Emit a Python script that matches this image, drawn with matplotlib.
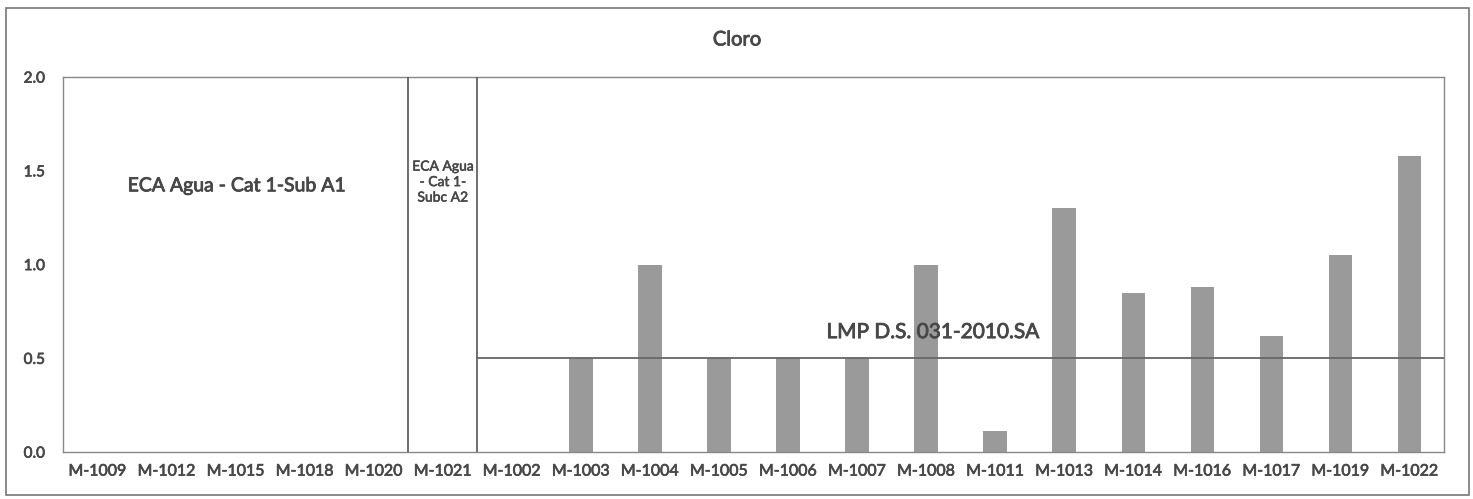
import numpy as np
import matplotlib.pyplot as plt
import matplotlib.patheffects as pe
from matplotlib.patches import Rectangle

plt.rcParams['font.family'] = ['Lato', 'DejaVu Sans']

# Cloro per muestra (mg/L)
samples = ['M-1009', 'M-1012', 'M-1015', 'M-1018', 'M-1020', 'M-1021', 'M-1002',
           'M-1003', 'M-1004', 'M-1005', 'M-1006', 'M-1007', 'M-1008', 'M-1011',
           'M-1013', 'M-1014', 'M-1016', 'M-1017', 'M-1019', 'M-1022']
cloro = [0, 0, 0, 0, 0, 0, 0,
         0.5, 1.0, 0.5, 0.5, 0.5, 1.0, 0.11,
         1.3, 0.85, 0.88, 0.62, 1.05, 1.58]

lmp = 0.5            # LMP D.S. 031-2010.SA
eca_a1_end = 4.5     # limite ECA A1 / A2
eca_a2_end = 5.5     # limite ECA A2 / LMP

txt_col = '#484848'
heavy = [pe.withStroke(linewidth=0.6, foreground=txt_col)]

fig = plt.figure(figsize=(14.73, 4.99), dpi=100)
ax = fig.add_axes([0.0428, 0.094, 0.9375, 0.7515])

x = np.arange(len(samples))
ax.bar(x, cloro, width=0.34, color='#9a9a9a', zorder=2)

ax.plot([eca_a1_end, eca_a1_end], [0, 2.0], color='#555555', lw=1.2, zorder=3)
ax.plot([eca_a2_end, eca_a2_end], [0, 2.0], color='#555555', lw=1.2, zorder=3)
ax.plot([eca_a2_end, len(samples) - 0.5], [lmp, lmp], color='#666666', lw=1.3, zorder=3)

ax.text(2.02, 1.42, 'ECA Agua - Cat 1-Sub A1', ha='center', va='center',
        fontsize=14, color=txt_col, path_effects=heavy)
ax.text(5.0, 1.44, 'ECA Agua\n- Cat 1-\nSubc A2', ha='center', va='center',
        fontsize=10, color=txt_col, linespacing=1.35,
        path_effects=[pe.withStroke(linewidth=0.4, foreground=txt_col)])
ax.text(12.1, 0.64, 'LMP D.S. 031-2010.SA', ha='center', va='center',
        fontsize=15, color=txt_col, path_effects=heavy)

ax.set_xlim(-0.5, len(samples) - 0.5)
ax.set_ylim(0, 2.0)
ax.set_yticks([0.0, 0.5, 1.0, 1.5, 2.0])
ax.set_yticklabels(['0.0', '0.5', '1.0', '1.5', '2.0'])
ax.set_xticks(x)
ax.set_xticklabels(samples)
ax.tick_params(axis='x', length=0, labelsize=11.5, labelcolor=txt_col, pad=9)
ax.tick_params(axis='y', length=0, labelsize=11, labelcolor=txt_col, pad=13)
for lbl in ax.get_xticklabels() + ax.get_yticklabels():
    lbl.set_path_effects([pe.withStroke(linewidth=0.5, foreground=txt_col)])
for s in ax.spines.values():
    s.set_color('#888888')
    s.set_linewidth(1.0)

fig.text(0.5004, 0.92, 'Cloro', ha='center', va='center', fontsize=14.5,
         color=txt_col, path_effects=heavy)

fig.patches.append(Rectangle((0.004, 0.008), 0.993, 0.976, transform=fig.transFigure,
                             fill=False, edgecolor='#777777', lw=1.2))

fig.savefig('out.png', dpi=100)
